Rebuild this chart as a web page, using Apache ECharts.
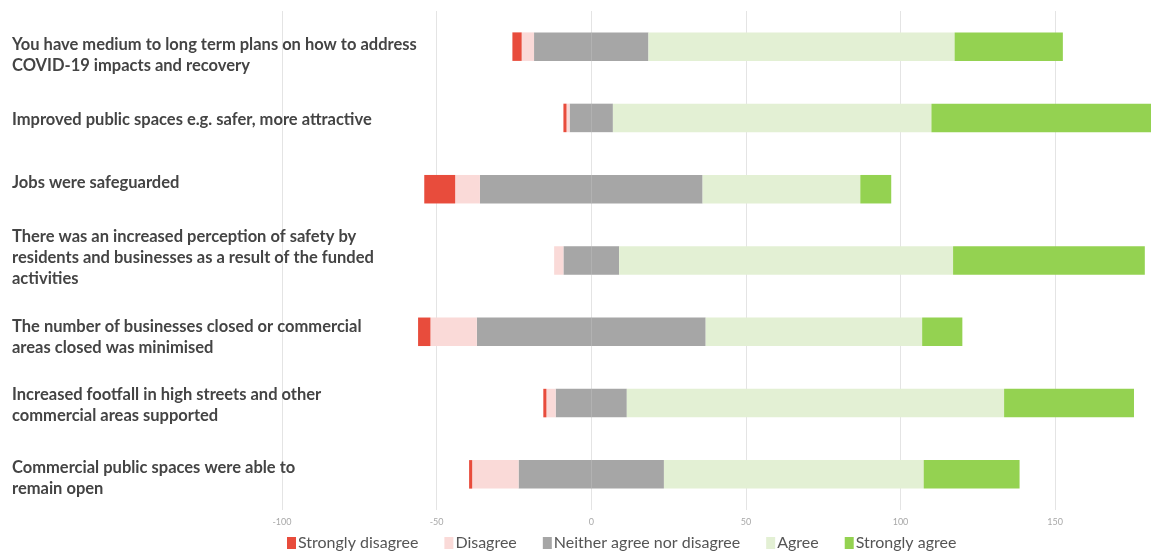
<!DOCTYPE html>
<html>
<head>
<meta charset="utf-8">
<title>Survey responses – outcomes of funded activities</title>
<script src="https://cdn.jsdelivr.net/npm/echarts@6/dist/echarts.min.js"></script>
<style>
  html, body { margin: 0; padding: 0; background: #ffffff; }
  #chart { width: 1151px; height: 554px; }
</style>
</head>
<body>
<div id="chart"></div>
<script>
// Statements, top to bottom
const categories = [
  'You have medium to long term plans on how to address\nCOVID-19 impacts and recovery',
  'Improved public spaces e.g. safer, more attractive',
  'Jobs were safeguarded',
  'There was an increased perception of safety by\nresidents and businesses as a result of the funded\nactivities',
  'The number of businesses closed or commercial\nareas closed was minimised',
  'Increased footfall in high streets and other\ncommercial areas supported',
  'Commercial public spaces were able to\nremain open'
];

// Number of responses per answer
const stronglyDisagree = [3, 1, 10, 0, 4, 1, 1];
const disagree         = [4, 1, 8, 3, 15, 3, 15];
const neither          = [37, 14, 72, 18, 74, 23, 47];
const agree            = [99, 103, 51, 108, 70, 122, 84];
const stronglyAgree    = [35, 71, 10, 62, 13, 42, 31];

const legendNames = ['Strongly disagree', 'Disagree', 'Neither agree nor disagree', 'Agree', 'Strongly agree'];
const xTicks = [-100, -50, 0, 50, 100, 150];

const colors = {
  sd: '#e84c3c',
  d: '#fadad8',
  n: '#a6a6a6',
  a: '#e3f0d4',
  sa: '#94d251'
};

// The statement column is laid out independently of the bar rows,
// so each statement sits a few pixels off its bar's centre line
// (positive = lower). An empty spacer line above or below the text
// moves the centred label block by half the spacer's height.
const statementShift = [9, 2, -7, -3, 5, 2, 4];

const spacerStyles = {};
statementShift.forEach((s, i) => {
  spacerStyles['g' + i] = { fontSize: 1, lineHeight: Math.max(1, 2 * Math.abs(s)) };
});

function statementLabel(value, index) {
  const s = statementShift[index] || 0;
  if (s === 0) return value;
  const spacer = '{g' + index + '| }';
  return s > 0 ? spacer + '\n' + value : value + '\n' + spacer;
}

// Neutral answers are split evenly either side of zero; negative answers
// stack leftwards, positive answers stack rightwards.
const neitherLeft = neither.map(v => -v / 2);
const neitherRight = neither.map(v => v / 2);
const negDisagree = disagree.map(v => -v);
const negStronglyDisagree = stronglyDisagree.map(v => -v);

function bar(name, data, color) {
  return {
    name: name,
    type: 'bar',
    stack: 'total',
    data: data,
    barCategoryGap: '60%',
    itemStyle: { color: color },
    emphasis: { disabled: true }
  };
}

const chart = echarts.init(document.getElementById('chart'), null, { renderer: 'canvas' });

chart.setOption({
  animation: false,
  color: [colors.sd, colors.d, colors.n, colors.a, colors.sa],
  grid: { left: 282, right: 0, top: 11, bottom: 44, containLabel: false, outerBoundsMode: 'none' },
  legend: {
    data: legendNames,
    left: 282,
    top: 530,
    icon: 'rect',
    itemWidth: 9,
    itemHeight: 12,
    itemGap: 26,
    textStyle: { fontFamily: 'Lato', fontSize: 16, color: '#555555', padding: [0, 0, 0, -3] }
  },
  xAxis: {
    type: 'value',
    min: xTicks[0],
    max: 'dataMax',
    interval: xTicks[1] - xTicks[0],
    axisLine: { show: false },
    axisTick: { show: false },
    splitLine: { show: true, lineStyle: { color: '#e4e4e4', width: 1 } },
    axisLabel: {
      margin: 8,
      fontFamily: 'Lato',
      fontSize: 9,
      color: '#a8a8a8',
      formatter: v => (xTicks.indexOf(v) >= 0 ? String(v) : '')
    }
  },
  yAxis: {
    type: 'category',
    data: categories,
    inverse: true,
    axisLine: { show: false },
    axisTick: { show: false },
    splitLine: { show: false },
    axisLabel: {
      align: 'left',
      margin: 270,
      fontFamily: 'Lato',
      fontWeight: 'bold',
      fontSize: 16.5,
      lineHeight: 21,
      color: '#444444',
      formatter: statementLabel,
      rich: spacerStyles
    }
  },
  series: [
    bar('Neither agree nor disagree', neitherLeft, colors.n),
    bar('Disagree', negDisagree, colors.d),
    bar('Strongly disagree', negStronglyDisagree, colors.sd),
    bar('Neither agree nor disagree', neitherRight, colors.n),
    bar('Agree', agree, colors.a),
    bar('Strongly agree', stronglyAgree, colors.sa)
  ]
});
</script>
</body>
</html>
